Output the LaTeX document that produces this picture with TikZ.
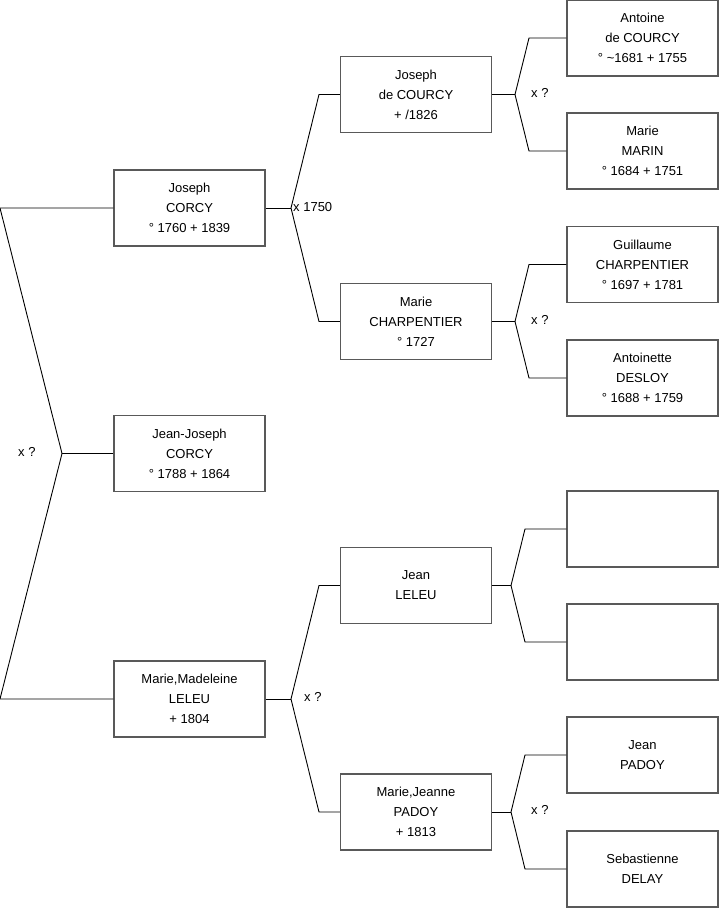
\documentclass[tikz,border=0pt]{standalone}
\usepackage{fontspec}
\setmainfont{Liberation Sans}
\begin{document}
\begin{tikzpicture}[x=1pt,y=-1pt,
  person/.style={draw=black!65,line width=1.2pt,fill=white,minimum width=151pt,minimum height=76pt,inner sep=0pt,align=center,font=\fontsize{13}{20}\selectfont},
  link/.style={draw=black,line width=0.9pt},
  lbl/.style={anchor=west,inner sep=0pt,font=\fontsize{13}{16}\selectfont}]
\useasboundingbox (0,0) rectangle (719,908);
% column 1
\node[person] (p1) at (189.5,208) {Joseph\\CORCY\\° 1760 + 1839};
\node[person] (p0) at (189.5,453.5) {Jean-Joseph\\CORCY\\° 1788 + 1864};
\node[person] (p2) at (189.5,699) {Marie,Madeleine\\LELEU\\+ 1804};
% column 2
\node[person] (p11) at (416,94.5) {Joseph\\de COURCY\\+ /1826};
\node[person] (p12) at (416,321.5) {Marie\\CHARPENTIER\\° 1727};
\node[person] (p21) at (416,585.5) {Jean\\LELEU};
\node[person] (p22) at (416,812) {Marie,Jeanne\\PADOY\\+ 1813};
% column 3
\node[person] (p111) at (642.5,38) {Antoine\\de COURCY\\° \textasciitilde1681 + 1755};
\node[person] (p112) at (642.5,151) {Marie\\MARIN\\° 1684 + 1751};
\node[person] (p121) at (642.5,264.5) {Guillaume\\CHARPENTIER\\° 1697 + 1781};
\node[person] (p122) at (642.5,378) {Antoinette\\DESLOY\\° 1688 + 1759};
\node[person] (p211) at (642.5,529) {};
\node[person] (p212) at (642.5,642) {};
\node[person] (p221) at (642.5,755) {Jean\\PADOY};
\node[person] (p222) at (642.5,869) {Sebastienne\\DELAY};
% vertices
\coordinate (v0) at (62,453.5);
\coordinate (v0a) at (0,208);
\coordinate (v0b) at (0,699);
\coordinate (v1) at (291,208);
\coordinate (v1a) at (319,94.5);
\coordinate (v1b) at (319,321.5);
\coordinate (v2) at (291,699);
\coordinate (v2a) at (319,585.5);
\coordinate (v2b) at (319,812);
\coordinate (v11) at (515,94.5);
\coordinate (v11a) at (529,38);
\coordinate (v11b) at (529,151);
\coordinate (v12) at (515,321.5);
\coordinate (v12a) at (529,264.5);
\coordinate (v12b) at (529,378);
\coordinate (v21) at (511,585.5);
\coordinate (v21a) at (525,529);
\coordinate (v21b) at (525,642);
\coordinate (v22) at (511,812);
\coordinate (v22a) at (525,755);
\coordinate (v22b) at (525,869);
% connectors
\begin{scope}[on background layer/.style={}]
\draw[link] (p0.west) -- (v0);
\draw[link] (p1.west) -- (v0a) -- (v0) -- (v0b) -- (p2.west);
\draw[link] (p1.east) -- (v1);
\draw[link] (p11.west) -- (v1a) -- (v1) -- (v1b) -- (p12.west);
\draw[link] (p2.east) -- (v2);
\draw[link] (p21.west) -- (v2a) -- (v2) -- (v2b) -- (p22.west);
\draw[link] (p11.east) -- (v11);
\draw[link] (p111.west) -- (v11a) -- (v11) -- (v11b) -- (p112.west);
\draw[link] (p12.east) -- (v12);
\draw[link] (p121.west) -- (v12a) -- (v12) -- (v12b) -- (p122.west);
\draw[link] (p21.east) -- (v21);
\draw[link] (p211.west) -- (v21a) -- (v21) -- (v21b) -- (p212.west);
\draw[link] (p22.east) -- (v22);
\draw[link] (p221.west) -- (v22a) -- (v22) -- (v22b) -- (p222.west);
\end{scope}
% labels
\node[lbl] (l0) at (18,452) {x ?};
\node[lbl] (l1) at (293,207) {x 1750};
\node[lbl] (l2) at (304,697) {x ?};
\node[lbl] (l11) at (531,93) {x ?};
\node[lbl] (l12) at (531,320) {x ?};
\node[lbl] (l22) at (531,810) {x ?};
\end{tikzpicture}
\end{document}
